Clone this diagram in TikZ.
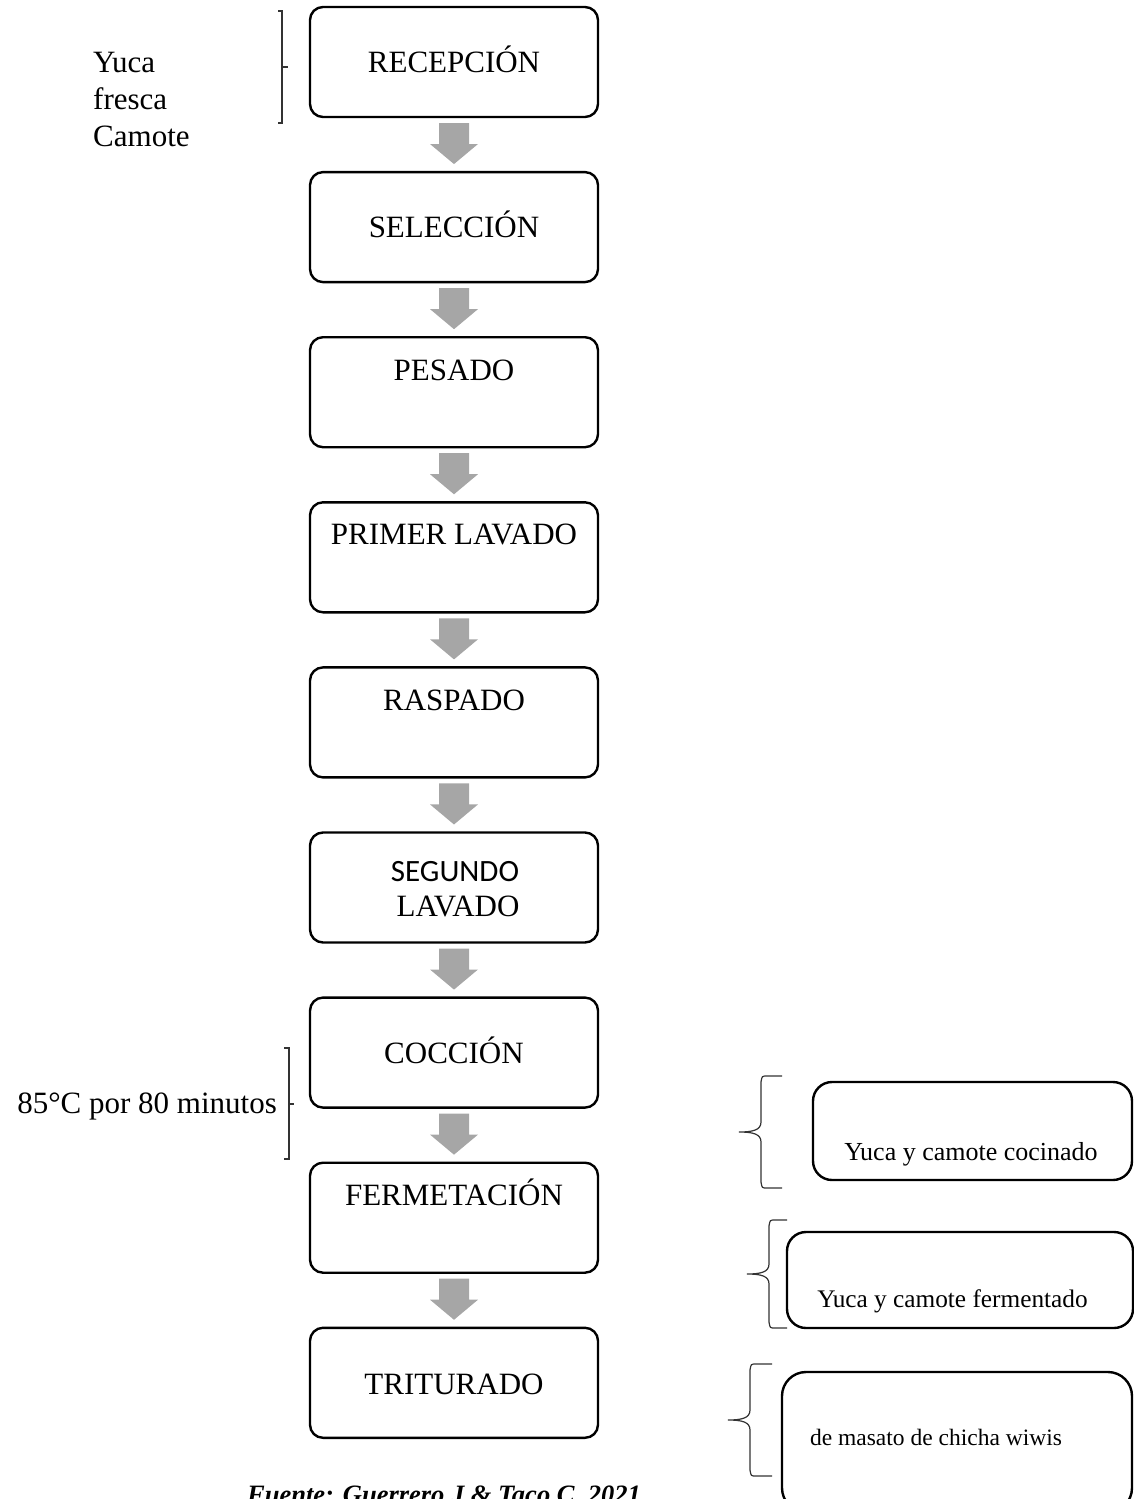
\documentclass[tikz,border=0pt]{standalone}
\usepackage{fontspec}
\setmainfont{Liberation Serif}
\newfontfamily\calibrifont{Carlito}
\usetikzlibrary{calc}

\definecolor{arrowgray}{HTML}{A6A6A6}
\definecolor{bracegray}{HTML}{333333}

\begin{document}
\begin{tikzpicture}[x=1pt,y=-1pt,
  stepbox/.style={draw=black,line width=2.4pt,rounded corners=13pt,
    minimum width=288pt,minimum height=110pt,inner sep=0pt,outer sep=0pt},
  notebox/.style={draw=black,line width=2.4pt,rounded corners=19pt,
    inner sep=0pt,outer sep=0pt},
  steplabel/.style={font=\fontsize{31}{36}\selectfont,anchor=base,inner sep=0pt},
  sidelabel/.style={font=\fontsize{31}{37}\selectfont,inner sep=0pt},
  brk/.style={draw=bracegray,line width=1.2pt},
  flowarrow/.style={fill=arrowgray}]

\useasboundingbox (0,0) rectangle (1134,1499);
\clip (0,0) rectangle (1134,1499);

% process steps
\foreach \i in {1,...,9}{
  \node[stepbox] (b\i) at (454,{62+165.1*(\i-1)}) {};
}

% step names
\node[steplabel] (t1) at (454,72.5) {RECEPCIÓN};
\node[steplabel] (t2) at (454,237.5) {SELECCIÓN};
\node[steplabel] (t3) at (454,380.5) {PESADO};
\node[steplabel] (t4) at (454,544.5) {PRIMER LAVADO};
\node[steplabel] (t5) at (454,710.5) {RASPADO};
\node[steplabel,font=\calibrifont\fontsize{31}{36}\selectfont] (t6a) at (455,881) {SEGUNDO};
\node[steplabel] (t6b) at (458,916) {LAVADO};
\node[steplabel] (t7) at (454,1063.5) {COCCIÓN};
\node[steplabel] (t8) at (454,1205.5) {FERMETACIÓN};
\node[steplabel] (t9) at (454,1394.5) {TRITURADO};

% block arrows between consecutive steps
\foreach \i [evaluate=\i as \j using int(\i+1)] in {1,...,8}{
  \fill[flowarrow]
    ($(b\i.south)+(-15,6)$) -- ($(b\i.south)+(15,6)$) --
    ($(b\i.south)+(15,27)$) -- ($(b\i.south)+(24,27)$) --
    ($(b\i.south)!47/55!(b\j.north)$) --
    ($(b\i.south)+(-24,27)$) -- ($(b\i.south)+(-15,27)$) -- cycle;
}

% raw material input
\node[sidelabel,align=left,anchor=north west] (raw) at (93,52)
  {Yuca\\fresca\\Camote};
\draw[brk] (278,11) -- (282,11) -- (282,123) -- (278,123);
\draw[brk] (282,67) -- (288,67);

% cooking condition
\node[sidelabel,anchor=base east] (cond) at (277,1113) {85°C por 80 minutos};
\draw[brk] (284,1048) -- (289,1048) -- (289,1159) -- (284,1159);
\draw[brk] (289,1104) -- (294,1104);

% intermediate products
\node[notebox,minimum width=319pt,minimum height=98pt] (n1) at (972.5,1131) {};
\node[font=\fontsize{26}{30}\selectfont,anchor=base,inner sep=0pt] (m1) at (971,1160)
  {Yuca y camote cocinado};
\node[notebox,minimum width=346pt,minimum height=96pt] (n2) at (960,1280) {};
\node[font=\fontsize{25.3}{30}\selectfont,anchor=base,inner sep=0pt] (m2) at (952.5,1307)
  {Yuca y camote fermentado};
\node[notebox,rounded corners=24pt,minimum width=350pt,minimum height=140pt] (n3) at (957,1442) {};
\node[font=\fontsize{23.5}{28}\selectfont,anchor=base,inner sep=0pt] (m3) at (936,1445)
  {de masato de chicha wiwis};

% curly braces beside the products
\foreach \x/\t/\b/\s/\tip in {761/1076/1188/782/739, 769/1220/1328/787/747, 750/1364/1476/772/728}{
  \pgfmathsetmacro{\m}{(\t+\b)/2}
  \draw[brk]
    (\s,\t) -- ({\x+6},\t) .. controls ({\x+1},\t) .. (\x,{\t+6}) --
    (\x,{\m-10}) .. controls (\x,{\m-2}) and ({\x-8},\m) .. (\tip,\m)
    .. controls ({\x-8},\m) and (\x,{\m+2}) .. (\x,{\m+10}) --
    (\x,{\b-6}) .. controls ({\x+1},\b) .. ({\x+6},\b) -- (\s,\b);
}

% source
\node[font=\bfseries\itshape\fontsize{26.5}{30}\selectfont,anchor=base west,inner sep=0pt]
  (src) at (247,1503) {Fuente: Guerrero J \& Taco C. 2021};

\end{tikzpicture}
\end{document}
